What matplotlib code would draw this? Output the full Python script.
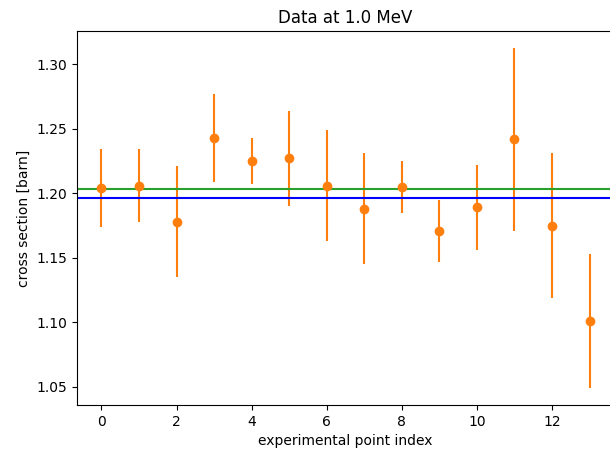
import numpy as np
import matplotlib
matplotlib.use("Agg")
import matplotlib.pyplot as plt

# measured cross sections at 1.0 MeV
idx = np.arange(14)
xs = [1.204, 1.206, 1.178, 1.243, 1.225, 1.227, 1.206,
      1.188, 1.205, 1.171, 1.189, 1.242, 1.175, 1.101]
err = [0.030, 0.028, 0.043, 0.034, 0.018, 0.037, 0.043,
       0.043, 0.020, 0.024, 0.033, 0.071, 0.056, 0.052]

# fitted / evaluated values
fit_green = 1.2033
fit_blue = 1.1964

fig = plt.figure(figsize=(6.1, 4.5), dpi=100)
ax = fig.add_axes([77 / 610, 45 / 450, 537 / 610, 374 / 450])

ax.errorbar(idx, xs, yerr=err, fmt='o', color='C1', lw=1.5)
ax.axhline(fit_green, color='C2', lw=1.5)
ax.axhline(fit_blue, color='blue', lw=1.5)

ax.set_xlim(-0.65, 13.65)
ax.set_ylim(1.0359, 1.3258)
ax.set_title('Data at 1.0 MeV')
ax.set_xlabel('experimental point index')
ax.set_ylabel('cross section [barn]')

fig.savefig('out.png', dpi=100)
